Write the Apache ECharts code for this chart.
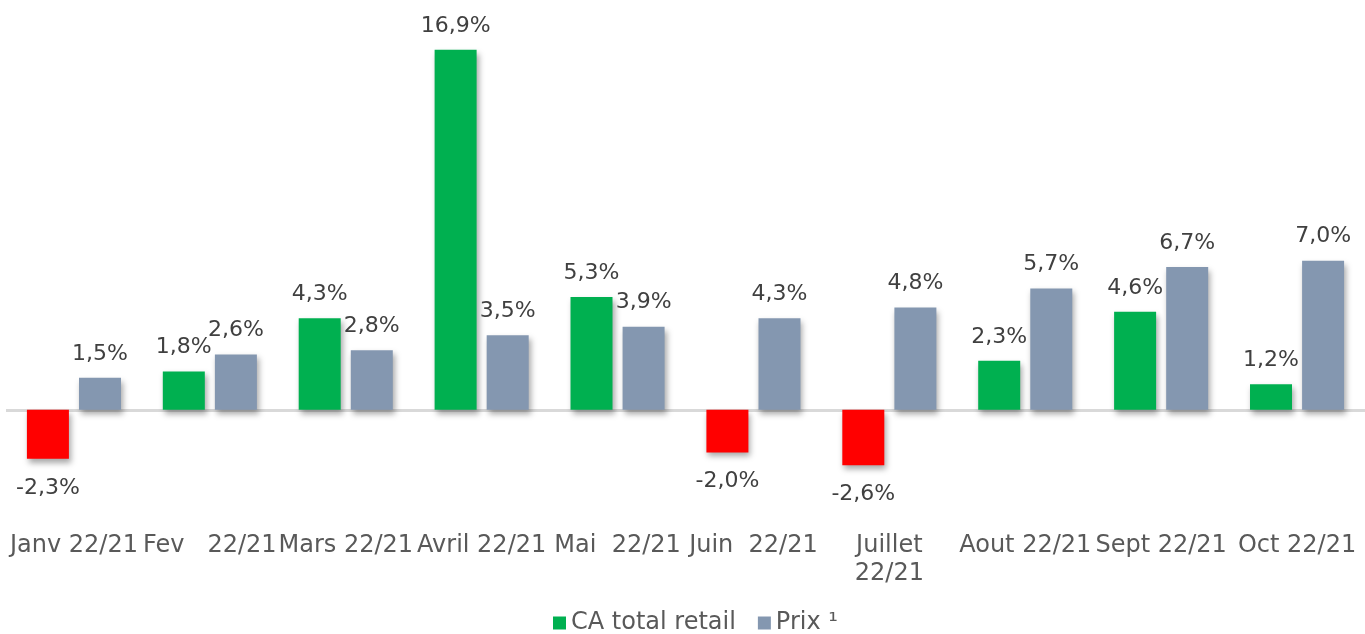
<!DOCTYPE html>
<html>
<head>
<meta charset="utf-8">
<script src="https://cdn.jsdelivr.net/npm/echarts@6/dist/echarts.min.js"></script>
<style>
  html, body { margin: 0; padding: 0; background: #fff; }
  #chart { width: 1365px; height: 634px; }
</style>
</head>
<body>
<div id="chart"></div>
<script>
// mois
const categories = [
  "Janv 22/21", "Fev   22/21", "Mars 22/21", "Avril 22/21", "Mai  22/21",
  "Juin  22/21", "Juillet\n22/21", "Aout 22/21", "Sept 22/21", "Oct 22/21"
];
const caValues = [-2.3, 1.8, 4.3, 16.9, 5.3, -2.0, -2.6, 2.3, 4.6, 1.2];
const prixValues = [1.5, 2.6, 2.8, 3.5, 3.9, 4.3, 4.8, 5.7, 6.7, 7.0];
const legendNames = ["CA total retail", "Prix \u00b9"];

const labelFont = "DejaVu Sans";
const shadow = {
  shadowColor: "rgba(0,0,0,0.35)",
  shadowBlur: 6,
  shadowOffsetX: 2,
  shadowOffsetY: 4,
};

function fmt(v) {
  return v.toFixed(1).replace(".", ",") + "%";
}

function buildData(values, color) {
  return values.map(function (v) {
    return {
      value: v,
      itemStyle: Object.assign({ color: v < 0 ? "#ff0000" : color }, shadow),
      label: { position: v < 0 ? "bottom" : "top", distance: v < 0 ? 18 : 13 },
    };
  });
}

const chart = echarts.init(document.getElementById("chart"));

const labelStyle = {
  show: true,
  color: "#404040",
  fontFamily: labelFont,
  fontSize: 22,
  formatter: function (p) {
    return fmt(p.value);
  },
};

const option = {
  animation: false,
  legend: {
    data: legendNames,
    top: 606,
    left: 548,
    itemWidth: 13,
    itemHeight: 13,
    itemGap: 22,
    icon: "rect",
    textStyle: { color: "#595959", fontFamily: labelFont, fontSize: 24 },
  },
  grid: {
    left: 6,
    right: 0,
    top: 37,
    height: 490,
  },
  xAxis: {
    type: "category",
    data: categories,
    axisLine: { show: false },
    axisTick: { show: false },
    axisLabel: {
      interval: 0,
      margin: 5,
      color: "#595959",
      fontFamily: labelFont,
      fontSize: 24,
      lineHeight: 28,
    },
  },
  yAxis: {
    type: "value",
    min: -5.5,
    max: 17.5,
    show: false,
    splitLine: { show: false },
  },
  series: [
    {
      name: legendNames[0],
      type: "bar",
      barWidth: 42,
      barGap: "24%",
      itemStyle: { color: "#00b050" },
      label: labelStyle,
      data: buildData(caValues, "#00b050"),
      markLine: {
        silent: true,
        symbol: "none",
        label: { show: false },
        lineStyle: { color: "#d9d9d9", width: 3, type: "solid" },
        data: [{ yAxis: 0 }],
        z: 1,
      },
    },
    {
      name: legendNames[1],
      type: "bar",
      barWidth: 42,
      barGap: "24%",
      itemStyle: { color: "#8497b0" },
      label: labelStyle,
      data: buildData(prixValues, "#8497b0"),
    },
  ],
};

chart.setOption(option);
</script>
</body>
</html>
